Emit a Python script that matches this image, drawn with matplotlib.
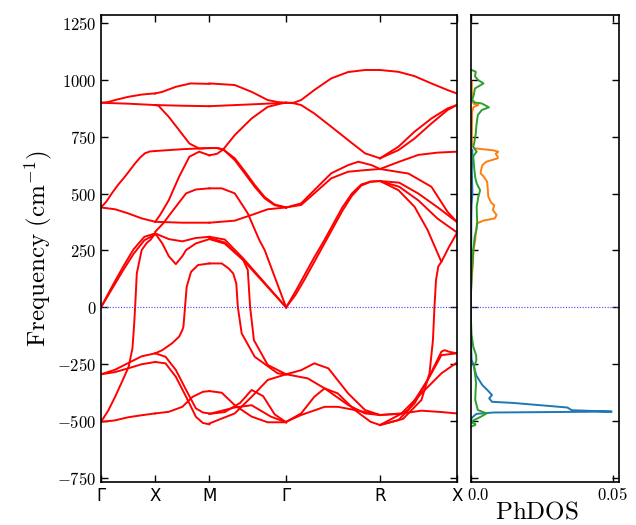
import matplotlib.pyplot as plt
from matplotlib.ticker import FuncFormatter
from matplotlib.transforms import ScaledTranslation

plt.rcParams['mathtext.fontset'] = 'cm'

# high-symmetry points (path length) and labels
kpoints = [0.0, 0.5, 1.0, 1.707, 2.573, 3.280]
klabels = ['Γ', 'X', 'M', 'Γ', 'R', 'X']

# phonon branches per path segment: (fraction along segment, frequency cm^-1)
bands_G_X = [
    ([0, .5, 1], [899, 895, 889]),
    ([0, .13, .26, .5, .75, .88, 1], [899, 902, 911, 925, 935, 938, 940]),
    ([0, .1, .2, .32, .44, .54, .63, .72, .81, .9, 1], [439, 465, 501, 540, 574, 605, 633, 658, 677, 685, 687]),
    ([0, .26, .5, .75, 1], [439, 431, 413, 391, 376]),
    ([0, .2, .4, .6, .8, 1], [0, 90, 175, 255, 310, 325]),
    ([0, .2, .4, .6, .8, 1], [0, 80, 160, 235, 295, 320]),
    ([0, .13, .26, .4, .51, .58, .61, .63, .66, .75, .85, .91, 1],
     [-503, -455, -393, -320, -261, -180, -80, 3, 149, 252, 285, 296, 325]),
    ([0, .25, .5, .75, 1], [-294, -275, -245, -215, -202]),
    ([0, .25, .5, .75, 1], [-294, -285, -268, -250, -240]),
    ([0, .25, .5, .75, 1], [-503, -497, -483, -474, -466]),
]

bands_X_M = [
    ([0, .5, 1], [889, 886, 884]),
    ([0, .13, .38, .65, 1], [940, 947, 969, 984, 982]),
    ([0, .5, 1], [687, 695, 700]),
    ([0, .06, .25, .44, .63, .81, 1], [889, 886, 837, 779, 720, 698, 700]),
    ([0, .1, .25, .44, .63, .81, 1], [376, 410, 471, 574, 662, 684, 668]),
    ([0, .5, 1], [376, 372, 372]),
    ([0, .15, .33, .57, .75, 1], [332, 370, 427, 501, 518, 523]),
    ([0, .13, .31, .44, .5, .52, .55, .58, .66, .79, 1],
     [-202, -188, -158, -129, -100, -85, 3, 90, 156, 186, 193]),
    ([0, .13, .25, .38, .5, .57, .75, 1], [325, 281, 225, 190, 225, 252, 281, 300]),
    ([0, .25, .5, .75, 1], [325, 300, 290, 305, 310]),
    ([0, .19, .38, .57, .75, .88, 1], [-202, -217, -275, -363, -444, -462, -466]),
    ([0, .19, .38, .57, .75, .88, 1], [-240, -246, -305, -393, -481, -508, -514]),
    ([0, .25, .5, .69, .88, 1], [-466, -459, -437, -393, -371, -368]),
]

bands_M_G = [
    ([0, .33, .55, .76, .89, 1], [984, 977, 947, 911, 902, 899]),
    ([0, .55, 1], [884, 892, 899]),
    ([0, .1, .18, .33, .55, .76, .94, 1], [700, 700, 694, 757, 830, 881, 896, 899]),
    ([0, .1, .18, .33, .46, .59, .72, .85, 1], [668, 675, 694, 647, 589, 530, 479, 449, 439]),
    ([0, .1, .18, .33, .46, .59, .72, .85, 1], [700, 700, 694, 655, 598, 538, 485, 452, 439]),
    ([0, .33, .55, .76, 1], [372, 381, 406, 431, 439]),
    ([0, .16, .33, .5, .65, .72, .85, 1], [523, 523, 501, 413, 296, 252, 135, 0]),
    ([0, .2, .44, .5, .53, .58, .76, 1], [305, 285, 208, 164, 3, -144, -253, -294]),
    ([0, .16, .25, .31, .35, .37, .42, .59, .89, 1], [193, 193, 171, 149, 105, 3, -114, -217, -290, -294]),
    ([0, .2, .44, .72, 1], [300, 280, 208, 104, 0]),
    ([0, .2, .44, .72, 1], [310, 298, 215, 108, 0]),
    ([0, .16, .33, .55, .76, 1], [-368, -375, -430, -480, -505, -505]),
    ([0, .2, .4, .55, .7, .85, 1], [-468, -460, -420, -363, -390, -470, -505]),
    ([0, .33, .55, .8, 1], [-468, -440, -430, -480, -505]),
    ([0, .33, .55, .76, 1], [-510, -466, -393, -319, -294]),
]

bands_G_R = [
    ([0, .08, .16, .3, .48, .66, .84, 1], [899, 899, 911, 955, 1006, 1034, 1043, 1043]),
    ([0, .08, .16, .3, .48, .66, .84, 1], [899, 897, 889, 852, 794, 735, 677, 655]),
    ([0, .16, .3, .48, .66, .77, .91, 1], [439, 457, 515, 589, 625, 640, 625, 608]),
    ([0, .16, .3, .48, .66, .84, 1], [439, 450, 501, 567, 596, 603, 608]),
    ([0, .1, .2, .3, .4, .5, .6, .7, .8, .9, 1], [0, 70, 145, 220, 290, 365, 440, 500, 540, 553, 555]),
    ([0, .1, .2, .3, .4, .5, .6, .7, .8, .9, 1], [0, 55, 125, 200, 275, 350, 425, 490, 535, 552, 555]),
    ([0, .16, .3, .45, .66, .84, 1], [-294, -276, -246, -268, -378, -451, -473]),
    ([0, .23, .41, .66, .84, 1], [-294, -312, -356, -429, -466, -473]),
    ([0, .16, .3, .41, .55, .73, .9, 1], [-503, -466, -393, -356, -378, -451, -503, -517]),
    ([0, .16, .41, .55, .73, 1], [-503, -473, -437, -437, -451, -473]),
]

bands_R_X = [
    ([0, .24, .45, .67, .88, 1], [1043, 1035, 1016, 984, 955, 940]),
    ([0, .24, .45, .67, .88, 1], [655, 706, 772, 830, 874, 889]),
    ([0, .24, .45, .67, .88, 1], [655, 691, 742, 808, 867, 889]),
    ([0, .25, .5, .75, 1], [608, 640, 670, 680, 684]),
    ([0, .37, .67, .88, 1], [608, 588, 530, 420, 376]),
    ([0, .25, .5, .75, 1], [555, 548, 500, 440, 376]),
    ([0, .25, .5, .75, 1], [555, 530, 470, 390, 330]),
    ([0, .24, .45, .62, .8, .9, 1], [555, 515, 442, 340, 200, 266, 325]),
    ([0, .25, .54, .8, 1], [-473, -468, -454, -460, -466]),
    ([0, .3, .54, .645, .69, .71, .73, .76, .8], [-517, -490, -407, -290, -144, 3, 120, 180, 200]),
    ([0, .24, .45, .67, .8, 1], [-517, -495, -422, -290, -210, -202]),
    ([0, .28, .54, .8, 1], [-473, -466, -378, -290, -243]),
    ([0, .37, .62, .8, .84, .9, 1], [-517, -451, -319, -195, -188, -195, -202]),
]

# projected phonon DOS (frequency, states)
dos_freq_blue = [700, 690, 660, 600, 550, 500, 450, 380, 300, 150, 0, -150, -230, -250, -300, -340,
                 -365, -385, -400, -415, -420, -440, -452, -458, -462, -468, -485, -505]
dos_blue = [0, .0006, .0005, .0004, .0005, .0006, .0003, .0002, .0002, .0001, 0, .0001, .0003, .0009, .002, .004,
            .006, .0075, .0065, .0075, .015, .034, .0356, .0496, .008, .002, .0004, 0]

dos_freq_orange = [1000, 990, 950, 910, 895, 889, 880, 860, 750, 710, 699, 690, 684, 675, 662, 655, 640,
                   625, 600, 589, 574, 552, 520, 486, 460, 449, 428, 406, 391, 381, 369, 330, 296, 252, 200, 150, 100, 50]
dos_orange = [0, .0004, .0004, .0005, .001, .0027, .001, .0005, .0004, .0005, .0012, .008, .0097, .0088, .0095, .0095, .0055,
              .0041, .0036, .0035, .0046, .0058, .006, .0062, .0072, .0083, .0078, .0091, .0085, .0044, .0022, .0018, .0016, .001,
              .0008, .0005, .0002, 0]

dos_freq_green = [1045, 1035, 1015, 1000, 984, 962, 930, 911, 900, 896, 879, 867, 845, 800, 765, 720, 706, 695, 684,
                  670, 662, 630, 603, 570, 545, 515, 500, 486, 442, 400, 369, 340, 310, 252, 150, 60, 0, -60, -120,
                  -173, -210, -232, -261, -300, -334, -370, -407, -451, -466, -481, -495, -505, -512, -517, -522, -528]
dos_green = [0, .0018, .0015, .0025, .0045, .0015, .001, .0005, .0015, .0039, .0064, .0039, .0025, .002, .0018, .0012, .0009,
             .0015, .0021, .0012, .0009, .0011, .0013, .0016, .0021, .0033, .003, .0027, .0021, .0022, .0023, .002, .0014, .0009,
             .0004, .0001, 0, .0001, .0003, .0009, .0019, .002, .0012, .0016, .0019, .0017, .0016, .0025, .0056, .0035, .0012,
             .0002, .0016, .0016, .0004, 0]

yticks = [-750, -500, -250, 0, 250, 500, 750, 1000, 1250]


def cm_label(v, pos=None):
    s = '%g' % abs(v)
    return (r'$-\mathrm{%s}$' % s) if v < 0 else (r'$\mathrm{%s}$' % s)


fig = plt.figure(figsize=(6.36, 5.25), dpi=100)
ax = fig.add_axes([0.1588, 0.0825, 0.5593, 0.8895])
ax2 = fig.add_axes([0.7401, 0.0825, 0.2332, 0.8895])

segments = [bands_G_X, bands_X_M, bands_M_G, bands_G_R, bands_R_X]
for i, seg in enumerate(segments):
    k0, k1 = kpoints[i], kpoints[i + 1]
    for t, f in seg:
        ax.plot([k0 + ti * (k1 - k0) for ti in t], f, color='red', lw=1.4)

zero_style = dict(color='#4040ff', ls=(0, (1, 1.5)), lw=0.8)
ax.axhline(0, **zero_style)
ax.set_xlim(kpoints[0], kpoints[-1])
ax.set_ylim(-766, 1286)
ax.set_xticks(kpoints)
ax.set_xticklabels(klabels, fontsize=12)
ax.set_yticks(yticks)
ax.yaxis.set_major_formatter(FuncFormatter(cm_label))
ax.tick_params(direction='in', top=True, right=True, length=5, width=1, labelsize=12)
ax.set_ylabel(r'$\mathrm{Frequency\ (cm^{-1})}$', fontsize=18, labelpad=2)

ax2.plot(dos_blue, dos_freq_blue, color='#1f77b4', lw=1.4)
ax2.plot(dos_orange, dos_freq_orange, color='#ff7f0e', lw=1.4)
ax2.plot(dos_green, dos_freq_green, color='#2ca02c', lw=1.4)
ax2.axhline(0, **zero_style)
ax2.set_xlim(0, 0.0522)
ax2.set_ylim(-766, 1286)
ax2.set_yticks(yticks)
ax2.set_yticklabels([])
ax2.set_xticks([0.0, 0.05])
ax2.set_xticklabels([r'$\mathrm{0.0}$', r'$\mathrm{0.05}$'], fontsize=12)
ax2.tick_params(direction='in', top=True, right=True, length=5, width=1, pad=3)
# the first DOS tick label sits a little to the right of its tick
lab0 = ax2.get_xticklabels()[0]
lab0.set_transform(lab0.get_transform() + ScaledTranslation(0.08, 0, fig.dpi_scale_trans))
ax2.set_xlabel(r'$\mathrm{PhDOS}$', fontsize=18, labelpad=-3)
ax2.xaxis.label.set_x(0.447)

for a in (ax, ax2):
    for sp in a.spines.values():
        sp.set_linewidth(1.2)

fig.savefig('out.png', dpi=100)
